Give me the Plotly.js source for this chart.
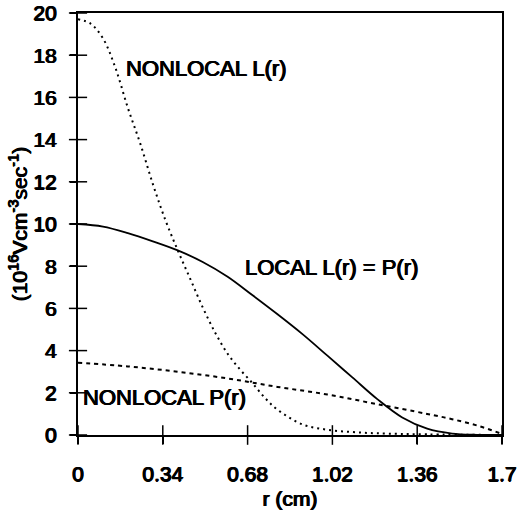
<!DOCTYPE html>
<html>
<head>
<meta charset="utf-8">
<script src="https://cdn.plot.ly/plotly-3.0.1.min.js"></script>
<style>html,body{margin:0;padding:0;background:#fff;}#chart{width:528px;height:518px;}</style>
</head>
<body>
<div id="chart"></div>
<script>
// r (cm) sample positions and values (10^16 V cm^-3 sec^-1)
const rLocal = [0,0.1,0.2,0.3,0.4,0.5,0.6,0.7,0.8,0.9,1.0,1.1,1.2,1.3,1.4,1.5,1.6,1.7];
const localLP = [10.0,9.88,9.57,9.18,8.75,8.2,7.5,6.62,5.72,4.78,3.76,2.73,1.7,0.83,0.3,0.07,0.01,0];

const rNonL = [0,0.05,0.1,0.15,0.2,0.25,0.3,0.35,0.4,0.45,0.5,0.55,0.6,0.65,0.7,0.75,0.8,0.9,1.0,1.1,1.2,1.4,1.7];
const nonlocalL = [19.7,19.5,18.8,17.4,15.5,13.8,11.9,10.2,8.75,7.4,6.05,4.85,3.85,3.1,2.45,1.75,1.2,0.5,0.25,0.14,0.08,0.03,0];

const rNonP = [0,0.2,0.4,0.6,0.8,1.0,1.2,1.4,1.5,1.6,1.7];
const nonlocalP = [3.43,3.25,3.0,2.68,2.28,1.92,1.46,1.0,0.75,0.45,0.05];

const xTicks = [0,0.34,0.68,1.02,1.36,1.7];
const xTickText = ['0','0.34','0.68','1.02','1.36','1.7'];
const yTicks = [0,2,4,6,8,10,12,14,16,18,20];
const yTickText = ['0','2','4','6','8','10','12','14','16','18','20'];

const SH = '0.6px 0 0 #000, -0.6px 0 0 #000, 0 0.4px 0 #000';
const FA = {family:'Liberation Sans, Arial, sans-serif', size:21, color:'#000', shadow:SH};
const FN = {family:'Liberation Sans, Arial, sans-serif', size:22, color:'#000', shadow:SH};

const data = [
  {x:rLocal, y:localLP, mode:'lines', line:{color:'#000', width:1.8, shape:'spline'}, hoverinfo:'skip'},
  {x:rNonL, y:nonlocalL, mode:'lines', line:{color:'#000', width:2, dash:'2px,4px', shape:'spline'}, hoverinfo:'skip'},
  {x:rNonP, y:nonlocalP, mode:'lines', line:{color:'#000', width:2, dash:'4px,4px', shape:'spline'}, hoverinfo:'skip'},
  // crossing tick marks, placed at the tick values through the axis scales
  {x:xTicks, y:xTicks.map(() => 0), mode:'markers', cliponaxis:false, hoverinfo:'skip',
    marker:{symbol:'line-ns', size:14, color:'#000', line:{width:1.5, color:'#000'}}},
  {x:yTicks.map(() => 0), y:yTicks, mode:'markers', cliponaxis:false, hoverinfo:'skip',
    marker:{symbol:'line-ew', size:13, color:'#000', line:{width:1.5, color:'#000'}}}
];

const layout = {
  width:528, height:518,
  margin:{l:78, r:26, t:13, b:83},
  paper_bgcolor:'#fff', plot_bgcolor:'#fff',
  showlegend:false,
  xaxis:{range:[0,1.7], tickvals:xTicks, ticktext:xTickText, ticks:'outside', ticklen:7, tickwidth:1.5, tickcolor:'#000',
    showline:true, linecolor:'#000', linewidth:2, mirror:true, showgrid:false, zeroline:false,
    tickfont:FA, ticklabelstandoff:12,
    title:{text:'r (cm)', font:FA, standoff:7}},
  yaxis:{range:[0,20], tickvals:yTicks, ticktext:yTickText, ticks:'outside', ticklen:6, tickwidth:1.5, tickcolor:'#000',
    showline:true, linecolor:'#000', linewidth:2, mirror:true, showgrid:false, zeroline:false,
    tickfont:FA, ticklabelstandoff:9,
    title:{text:'(10<sup>16</sup>Vcm<sup>-3</sup>sec<sup>-1</sup>)', font:FA, standoff:0}},
  annotations:[
    {x:0.516, y:17.35, xref:'x', yref:'y', text:'NONLOCAL L(r)', showarrow:false, font:FN},
    {x:1.018, y:7.96, xref:'x', yref:'y', text:'LOCAL L(r) = P(r)', showarrow:false, font:FN},
    {x:0.348, y:1.8, xref:'x', yref:'y', text:'NONLOCAL P(r)', showarrow:false, font:FN}
  ]
};

Plotly.newPlot('chart', data, layout, {staticPlot:true, displayModeBar:false});
</script>
</body>
</html>
